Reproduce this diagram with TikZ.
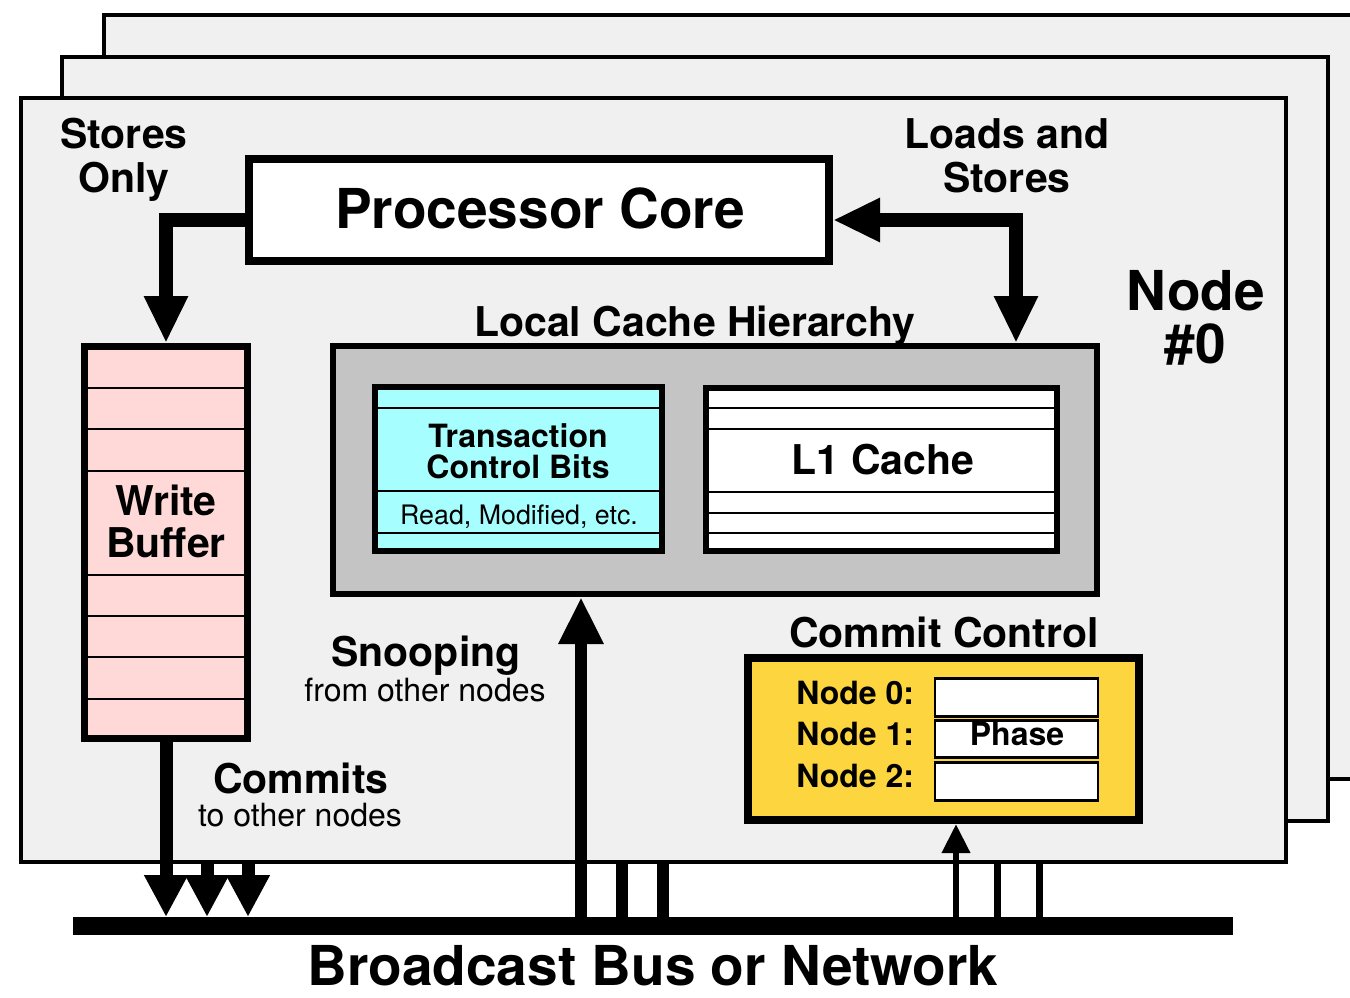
\documentclass[tikz,border=0pt]{standalone}
\usepackage{fontspec}
\setmainfont{TeX Gyre Heros}
\usetikzlibrary{arrows.meta,calc}
\definecolor{planegray}{HTML}{F0F0F0}
\definecolor{cachegray}{HTML}{C4C4C4}
\definecolor{tcbcyan}{HTML}{A6FEFE}
\definecolor{wbpink}{HTML}{FFD9D7}
\definecolor{ccyellow}{HTML}{FDD53F}
\newcommand\fsBig{\fontsize{27.5pt}{33pt}\selectfont\bfseries}
\newcommand\fsMid{\fontsize{20.5pt}{24pt}\selectfont\bfseries}
\newcommand\fsSmB{\fontsize{16pt}{19pt}\selectfont\bfseries}
\newcommand\fsSm{\fontsize{16pt}{19pt}\selectfont}
\newcommand\fsXs{\fontsize{13.4pt}{16pt}\selectfont}
\begin{document}
\begin{tikzpicture}[x=0.5pt,y=-0.5pt,
  plane/.style={draw, line width=2pt, fill=planegray},
  box/.style={draw, rectangle, inner sep=0pt},
  lbl/.style={inner sep=0pt, anchor=base},
  rowline/.style={line width=1pt},
  bighead/.style={-{Triangle[width=20.5pt,length=23.5pt]}},
  bigarrow/.style={line width=7pt, bighead},
  commitarrow/.style={line width=6.5pt, -{Triangle[width=20.5pt,length=21pt]}},
  snooparrow/.style={line width=6pt, -{Triangle[width=21pt,length=23.5pt]}},
  stub/.style={line width=6pt},
  ccarrow/.style={line width=3.3pt, -{Triangle[width=13.5pt,length=14.5pt]}},
  ccstub/.style={line width=3.5pt}
]
\clip (0,0) rectangle (1350,997);
\fill[white] (0,0) rectangle (1350,997);

% stacked node planes
\draw[plane] (104,15) rectangle (1420,779);
\draw[plane] (62,57) rectangle (1328,821);
\draw[plane] (21,98) rectangle (1286,862);
\coordinate (fb) at (0,864);

% main blocks
\node[box, line width=4pt, fill=white, minimum width=290pt, minimum height=51pt] (core) at (539,210) {};
\node[lbl] at (540,228) {\fsBig Processor Core};

\node[box, line width=3pt, fill=cachegray, minimum width=382pt, minimum height=124pt] (cache) at (715,470) {};
\node[lbl] at (695,336) {\fsMid Local Cache Hierarchy};

\node[box, line width=3pt, fill=tcbcyan, minimum width=143.5pt, minimum height=82pt] (tcb) at (518.5,469) {};
\draw[rowline] (376,408) -- (661,408);
\draw[rowline] (376,491) -- (661,491);
\draw[rowline] (376,533) -- (661,533);
\node[lbl] at (518,447) {\fsSmB Transaction};
\node[lbl] at (518,478) {\fsSmB Control Bits};
\node[lbl] at (519,524) {\fsXs Read, Modified, etc.};

\node[box, line width=3pt, fill=white, minimum width=175.5pt, minimum height=81.5pt] (l1) at (881.5,469.5) {};
\foreach \yy in {408,429,492,513,533} \draw[rowline] (707,\yy) -- (1056,\yy);
\node[lbl] at (883,474) {\fsMid L1 Cache};

\node[box, line width=3.5pt, fill=wbpink, minimum width=81.5pt, minimum height=196pt] (wb) at (166,542.5) {};
\foreach \yy in {388,429,471,575,616,657,699} \draw[rowline] (86,\yy) -- (246,\yy);
\node[lbl] at (166,515) {\fsMid Write};
\node[lbl] at (166,557) {\fsMid Buffer};

\node[box, line width=4pt, fill=ccyellow, minimum width=195.5pt, minimum height=81pt] (cc) at (943.5,739) {};
\node[lbl] at (944,647) {\fsMid Commit Control};
\node[box, line width=1.3pt, fill=white, minimum width=81.5pt, minimum height=19pt] (p0) at (1016.5,697.5) {};
\node[box, line width=1.3pt, fill=white, minimum width=81.5pt, minimum height=18.5pt] (p1) at (1016.5,739) {};
\node[box, line width=1.3pt, fill=white, minimum width=81.5pt, minimum height=19pt] (p2) at (1016.5,781.5) {};
\node[lbl, anchor=base west] at (796,704) {\fsSmB Node 0:};
\node[lbl, anchor=base west] at (796,745) {\fsSmB Node 1:};
\node[lbl, anchor=base west] at (796,787) {\fsSmB Node 2:};
\node[lbl] at (1017,745) {\fsSmB Phase};

% bus
\node[fill=black, inner sep=0pt, outer sep=0pt, minimum width=580pt, minimum height=9pt] (bus) at (653,926) {};
\node[lbl] at (653,985) {\fsBig Broadcast Bus or Network};

% labels
\node[lbl] at (124,148) {\fsMid Stores};
\node[lbl] at (124,192) {\fsMid Only};
\node[lbl] at (1007,148) {\fsMid Loads and};
\node[lbl] at (1007,192) {\fsMid Stores};
\node[lbl] at (1196,310) {\fsBig Node};
\node[lbl] at (1195,363) {\fsBig \#0};
\node[lbl] at (426,666) {\fsMid Snooping};
\node[lbl] at (425,701) {\fsSm from other nodes};
\node[lbl] at (301,793) {\fsMid Commits};
\node[lbl] at (300,826) {\fsSm to other nodes};

% processor connections
\draw[bigarrow] ($(core.west)+(0,10)$) -| (wb.north);
\draw[line width=7pt, {Triangle[width=20.5pt,length=23.5pt]}-{Triangle[width=20.5pt,length=23.5pt]}]
  ($(core.east)+(0,10)$) -| ($(cache.north)+(301,0)$);

% commits to bus
\coordinate (c2) at (207,0);
\coordinate (c3) at (248,0);
\draw[commitarrow] (wb.south) -- (wb.south |- bus.north);
\draw[commitarrow] (c2 |- fb) -- (c2 |- bus.north);
\draw[commitarrow] (c3 |- fb) -- (c3 |- bus.north);

% snooping from bus
\coordinate (s1) at (581,0);
\coordinate (s2) at (622,0);
\coordinate (s3) at (663,0);
\draw[snooparrow] (s1 |- bus.north) -- (s1 |- cache.south);
\draw[stub] (s2 |- fb) -- (s2 |- bus.north);
\draw[stub] (s3 |- fb) -- (s3 |- bus.north);

% commit control from bus
\coordinate (k1) at (956,0);
\coordinate (k2) at (997,0);
\coordinate (k3) at (1039,0);
\draw[ccarrow] (k1 |- bus.north) -- (k1 |- cc.south);
\draw[ccstub] (k2 |- fb) -- (k2 |- bus.north);
\draw[ccstub] (k3 |- fb) -- (k3 |- bus.north);
\end{tikzpicture}
\end{document}
